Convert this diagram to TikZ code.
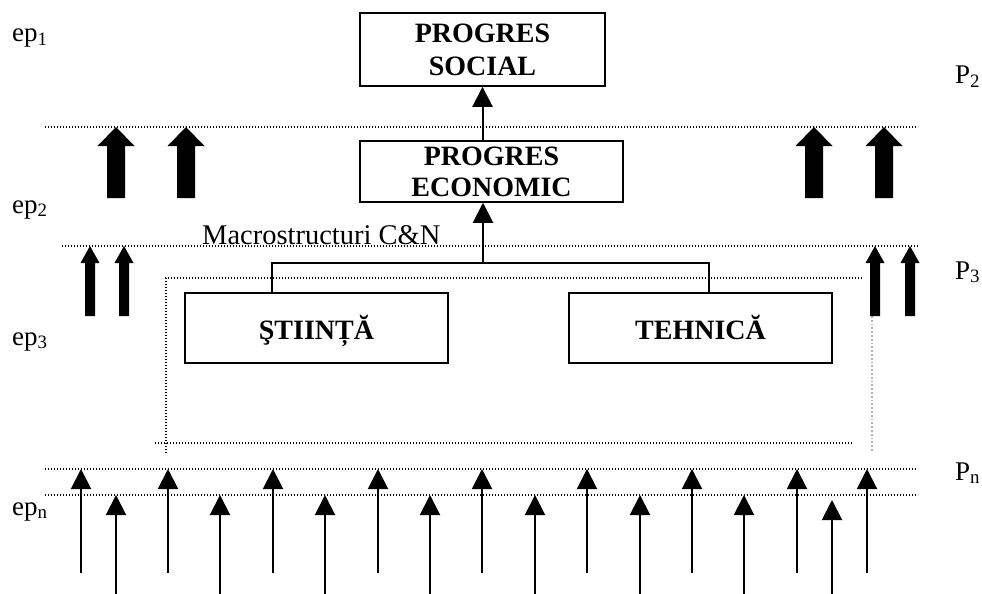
\documentclass[tikz,border=0pt]{standalone}
\usepackage{fontspec}
\setmainfont{Liberation Serif}
\usetikzlibrary{arrows.meta}

\begin{document}
\begin{tikzpicture}[x=1pt,y=-1pt,
  boxnode/.style={draw,line width=1.5pt,inner sep=0pt,align=center,
    font=\fontsize{28}{32}\selectfont\bfseries},
  lbl/.style={anchor=base west,inner sep=0pt,font=\fontsize{27}{30}\selectfont},
  dotline/.style={line width=1.2pt,dash pattern=on 1.2pt off 1.8pt},
  graydot/.style={line width=1.8pt,gray!60,dash pattern=on 1.8pt off 2pt},
  thinarrow/.style={line width=2pt,-{Triangle[width=20pt,length=20pt]}},
  conn/.style={line width=2pt},
  bigup/.pic={\fill (0,0) -- (18.5,19) -- (9,19) -- (9,71) -- (-9,71) -- (-9,19) -- (-18.5,19) -- cycle;},
  smallup/.pic={\fill (0,0) -- (9.5,17) -- (5,17) -- (5,70) -- (-5,70) -- (-5,17) -- (-9.5,17) -- cycle;}]

\useasboundingbox (0,0) rectangle (982,594);

% dotted level lines
\draw[dotline] (45,127) -- (918,127);
\draw[dotline] (62,246) -- (918,246);
\draw[dotline] (45,469) -- (918,469);
\draw[dotline] (45,495) -- (918,495);
% inner dotted frame
\draw[dotline] (165,278) -- (862,278);
\draw[dotline] (166,278) -- (166,453);
\draw[dotline] (155,443) -- (852,443);
\draw[graydot] (872,316) -- (872,452);

% boxes
\node[boxnode, minimum width=245pt, minimum height=73pt] (social) at (482.5,49.5) {PROGRES\\[1pt]SOCIAL};
\node[boxnode, minimum width=263pt, minimum height=61pt] (econ) at (491.5,171.5) {PROGRES\\[-1pt]ECONOMIC};
\node[boxnode, minimum width=263pt, minimum height=70pt, text height=24pt, text depth=2pt] (stiinta) at (316.5,328) {ŞTIINȚĂ};
\node[boxnode, minimum width=263pt, minimum height=70pt, text height=24pt, text depth=2pt] (tehnica) at (700.5,328) {TEHNICĂ};

% connectors
\draw[thinarrow] (econ.north -| social.south) -- (social.south);
\coordinate (teeL) at (272,263);
\coordinate (teeR) at (709,263);
\coordinate (teeM) at (483,263);
\draw[conn] (stiinta.north -| teeL) -- (teeL) -- (teeR) -- (tehnica.north -| teeR);
\draw[thinarrow] (teeM) -- (econ.south -| teeM);

% block arrows
\foreach \x in {116,186,814,884} \pic at (\x,127) {bigup};
\foreach \x in {90,124,875,910} \pic at (\x,246) {smallup};

% thin arrows
\foreach \x [count=\i] in {81,168,273,378,482,587,692,797,867} {
  \coordinate (a\i s) at (\x,573);
  \coordinate (a\i e) at (\x,469);
  \draw[thinarrow] (a\i s) -- (a\i e);
}
\foreach \x/\t [count=\i] in {116/495,220/495,325/495,430/495,535/495,640/495,744/495,832/500} {
  \coordinate (b\i s) at (\x,594);
  \coordinate (b\i e) at (\x,\t);
  \draw[thinarrow] (b\i s) -- (b\i e);
}

% labels
\node[lbl] (ep1) at (12,42) {ep\textsubscript{1}};
\node[lbl] (ep2) at (12,213) {ep\textsubscript{2}};
\node[lbl] (ep3) at (12,345) {ep\textsubscript{3}};
\node[lbl] (epn) at (12,515) {ep\textsubscript{n}};
\node[lbl] (p2) at (955,84) {P\textsubscript{2}};
\node[lbl] (p3) at (955,279) {P\textsubscript{3}};
\node[lbl] (pn) at (955,480) {P\textsubscript{n}};
\node[lbl, font=\fontsize{28.5}{30}\selectfont] (macro) at (202,244) {Macrostructuri C\&N};
\end{tikzpicture}
\end{document}
